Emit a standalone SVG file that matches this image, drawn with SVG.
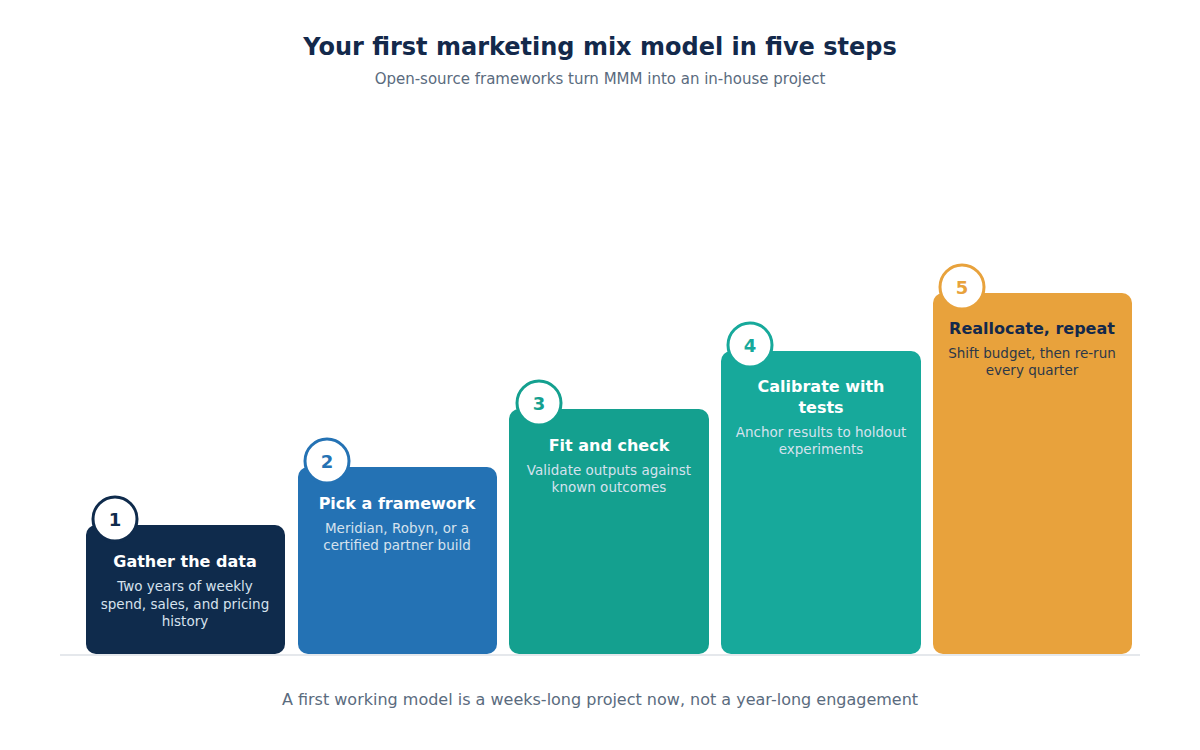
<svg xmlns="http://www.w3.org/2000/svg" width="1200" height="750" viewBox="0 0 1200 750">
<style>
text{font-family:"DejaVu Sans",sans-serif;text-anchor:middle}
.t{font-size:16px;font-weight:bold;fill:#fff}
.d{font-size:13.5px;fill:#d6e2ee}
.n{font-size:18px;font-weight:bold}
.c{fill:#fff;stroke-width:3}
</style>
<rect width="1200" height="750" fill="#fff"/>
<text x="600" y="55" font-size="24" font-weight="bold" fill="#13294b">Your first marketing mix model in five steps</text>
<text x="600" y="84" font-size="15" fill="#5a6b7e">Open-source frameworks turn MMM into an in-house project</text>
<g id="connectors"><line x1="60" y1="655" x2="1140" y2="655" stroke="#dde1e6" stroke-width="1.5"/></g>
<g id="step1"><rect x="86" y="525" width="199" height="129" rx="10" fill="#0f2b4c"/>
<circle class="c" cx="115" cy="519" r="22" stroke="#0f2b4c"/><text class="n" x="115" y="526" fill="#0f2b4c">1</text>
<text class="t" x="185" y="567">Gather the data</text>
<text class="d" x="185" y="591">Two years of weekly</text><text class="d" x="185" y="609">spend, sales, and pricing</text><text class="d" x="185" y="626">history</text></g>
<g id="step2"><rect x="298" y="467" width="199" height="187" rx="10" fill="#2472b4"/>
<circle class="c" cx="327" cy="461" r="22" stroke="#2472b4"/><text class="n" x="327" y="468" fill="#2472b4">2</text>
<text class="t" x="397" y="509">Pick a framework</text>
<text class="d" x="397" y="533">Meridian, Robyn, or a</text><text class="d" x="397" y="550">certified partner build</text></g>
<g id="step3"><rect x="509" y="409" width="200" height="245" rx="10" fill="#14a08f"/>
<circle class="c" cx="539" cy="403" r="22" stroke="#14a08f"/><text class="n" x="539" y="410" fill="#14a08f">3</text>
<text class="t" x="609" y="451">Fit and check</text>
<text class="d" x="609" y="475">Validate outputs against</text><text class="d" x="609" y="492">known outcomes</text></g>
<g id="step4"><rect x="721" y="351" width="200" height="303" rx="10" fill="#17a99b"/>
<circle class="c" cx="750" cy="345" r="22" stroke="#17a99b"/><text class="n" x="750" y="352" fill="#17a99b">4</text>
<text class="t" x="821" y="392">Calibrate with</text><text class="t" x="821" y="413">tests</text>
<text class="d" x="821" y="437">Anchor results to holdout</text><text class="d" x="821" y="454">experiments</text></g>
<g id="step5"><rect x="933" y="293" width="199" height="361" rx="10" fill="#e8a23c"/>
<circle class="c" cx="962" cy="287" r="22" stroke="#e8a23c"/><text class="n" x="962" y="294" fill="#e8a23c">5</text>
<text class="t" x="1032" y="334" fill="#13294b" style="fill:#13294b">Reallocate, repeat</text>
<text class="d" x="1032" y="358" style="fill:#2c3848">Shift budget, then re-run</text><text class="d" x="1032" y="375" style="fill:#2c3848">every quarter</text></g>
<text x="600" y="705" font-size="16" fill="#5a6b7e">A first working model is a weeks-long project now, not a year-long engagement</text>
</svg>
